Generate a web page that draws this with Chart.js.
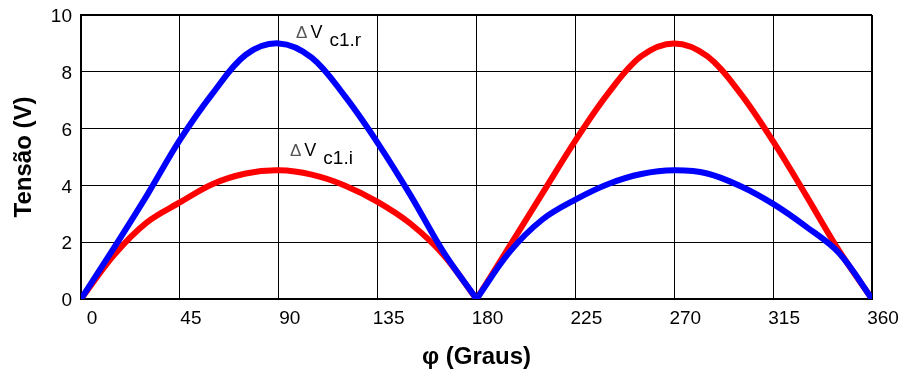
<!DOCTYPE html>
<html>
<head>
<meta charset="utf-8">
<script src="https://cdn.jsdelivr.net/npm/chart.js@4.4.1/dist/chart.umd.min.js"></script>
<style>
  html,body{margin:0;padding:0;background:#fff}
  canvas{display:block}
</style>
</head>
<body>
<canvas id="c" width="904" height="371"></canvas>
<script>
/* ===== dados ===== */
// ângulo φ em graus (180 aparece duas vezes: as duas meias-ondas se encontram ali)
const PHI  = [0,15,30,45,60,75,90,105,120,135,150,165,180, 180,195,210,225,240,255,270,285,300,315,330,345,360];
// ΔVc1.r (azul)
const V_R  = [0,1.8,3.65,5.6,7.25,8.6,9.0,8.5,7.15,5.5,3.65,1.65,0, 0,1.65,2.8,3.5,4.05,4.4,4.53,4.42,3.98,3.35,2.55,1.62,0];
// ΔVc1.i (vermelho)
const V_I  = [0,1.55,2.7,3.4,4.05,4.42,4.53,4.38,4.0,3.42,2.65,1.55,0, 0,1.85,3.72,5.58,7.25,8.55,9.0,8.55,7.25,5.55,3.65,1.7,0];
const X_MIN = 0, X_MAX = 360, X_STEP = 45;
const Y_MIN = 0, Y_MAX = 10, Y_STEP = 2;
// rótulos das curvas: subscrito + ponto de ancoragem (φ, V)
const NOTE_SUB = ['c1.r','c1.i'];
const NOTE_PHI = [97.9, 95.1];
const NOTE_V   = [9.18, 5.03];

const FONT = '"Liberation Sans", Arial, Helvetica, sans-serif';
const pts = ys => PHI.map((x,i)=>({x, y:ys[i]}));

/* ===== rótulos ΔV ===== */
const notes = {
  id:'notes',
  afterDatasetsDraw(chart){
    const {ctx, scales:{x,y}} = chart;
    ctx.save();
    ctx.textBaseline = 'alphabetic';
    NOTE_SUB.forEach((sub,i)=>{
      let px = x.getPixelForValue(NOTE_PHI[i]);
      const py = y.getPixelForValue(NOTE_V[i]);
      ctx.fillStyle = '#555'; ctx.font = `17px ${FONT}`;
      ctx.fillText('\u0394', px, py);
      px += ctx.measureText('\u0394').width + 3;
      ctx.fillStyle = '#000'; ctx.font = `18px ${FONT}`;
      ctx.fillText('V', px, py);
      px += ctx.measureText('V').width + 7;
      ctx.font = `19px ${FONT}`;
      ctx.fillText(sub, px, py + 8);
    });
    ctx.restore();
  }
};

const line = (data, color) => ({
  data, borderColor: color, backgroundColor: color, borderWidth: 6,
  pointRadius: 0, tension: 0.35, borderCapStyle: 'round', borderJoinStyle: 'round', fill: false
});

const edge = (ctx, v) => (ctx.tick && ctx.tick.value === v) ? 2 : 1;

new Chart(document.getElementById('c'), {
  type: 'line',
  data: { datasets: [ line(pts(V_R), '#0000ff'), line(pts(V_I), '#ff0000') ] },
  options: {
    responsive: false, animation: false, devicePixelRatio: 1,
    layout: { padding: { left: 0, right: 32, top: 15, bottom: 0 } },
    plugins: { legend: { display: false }, tooltip: { enabled: false } },
    scales: {
      x: {
        type: 'linear', min: X_MIN, max: X_MAX,
        ticks: { stepSize: X_STEP, color: '#000', font: { family: FONT, size: 19 }, padding: 8, labelOffset: 11, maxRotation: 0 },
        grid: { color: '#000', lineWidth: c => edge(c, X_MAX), drawTicks: false },
        border: { color: '#000', width: 2 },
        title: { display: true, text: '\u03c6 (Graus)', color: '#000', font: { family: FONT, size: 24, weight: 'bold' }, padding: { top: 0, bottom: -1 } },
        afterFit: s => { s.height = 72; s.paddingLeft = 0; s.paddingRight = 0; }
      },
      y: {
        min: Y_MIN, max: Y_MAX,
        ticks: { stepSize: Y_STEP, color: '#000', font: { family: FONT, size: 19 }, padding: 9, labelOffset: 2 },
        grid: { color: '#000', lineWidth: c => edge(c, Y_MAX), drawTicks: false },
        border: { color: '#000', width: 2 },
        title: { display: true, text: 'Tensão (V)', color: '#000', font: { family: FONT, size: 24, weight: 'bold' }, padding: { top: 10, bottom: 0 } },
        afterFit: s => { s.width = 81; s.paddingTop = 0; s.paddingBottom = 0; }
      }
    }
  },
  plugins: [notes]
});
</script>
</body>
</html>
